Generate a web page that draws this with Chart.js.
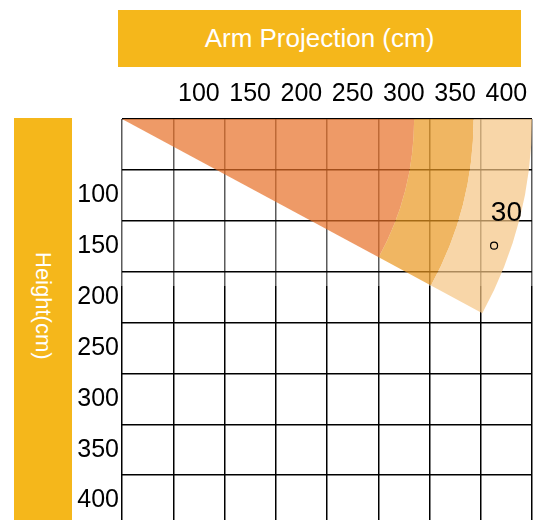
<!DOCTYPE html>
<html>
<head>
<meta charset="utf-8">
<script src="https://cdn.jsdelivr.net/npm/chart.js@4.4.1/dist/chart.umd.min.js"></script>
<style>
  body { margin: 0; background: #fff; }
  #wrap { position: relative; width: 535px; height: 520px; overflow: hidden; }
  #chart { position: absolute; left: 0; top: 0; }
  .bar { position: absolute; background: #f5b71b; color: #fff; font-family: "Liberation Sans", Arial, sans-serif; }
  #xTitle { left: 118px; top: 10px; width: 403px; height: 57px; line-height: 57px; text-align: center; font-size: 26px; }
  #yTitle { left: 14px; top: 118px; width: 58px; height: 410px; }
  #yTitle span { position: absolute; left: 0; top: 134px; width: 58px; line-height: 58px; writing-mode: vertical-rl; font-size: 22px; }
</style>
</head>
<body>
<div id="wrap">
  <canvas id="chart" width="535" height="540"></canvas>
  <div class="bar" id="xTitle">Arm Projection (cm)</div>
  <div class="bar" id="yTitle"><span>Height(cm)</span></div>
</div>
<script>
// reach chart: arm projection vs height

// column / row labels (first cell has none)
const columnLabels = ['', '100', '150', '200', '250', '300', '350', '400'];
const rowLabels = ['', '100', '150', '200', '250', '300', '350', '400'];

// band edges of the reach zones, in cm from the corner
const bandEdges = [0, 285, 343, 400];
// lower edge of the zones, degrees below horizontal
const wedgeAngle = 28.5;

// angle note
const angleText = '30';
const angleTextAt = [375, 93];
const degreeMark = [{ x: 363, y: 124.5 }];

const bandColors = ['rgba(231,111,39,0.7)', 'rgba(234,151,31,0.7)', 'rgba(245,196,131,0.7)'];
const fontFamily = '"Liberation Sans", Arial, sans-serif';

// draws the reach zones through the hidden linear scales
const wedgePlugin = {
  id: 'wedges',
  beforeDatasetsDraw(chart) {
    const { ctx, scales: { xv, yv } } = chart;
    const cx = xv.getPixelForValue(0), cy = yv.getPixelForValue(0);
    const a = wedgeAngle * Math.PI / 180;
    ctx.save();
    for (let i = 0; i < bandEdges.length - 1; i++) {
      const rIn = bandEdges[i], rOut = bandEdges[i + 1];
      ctx.beginPath();
      ctx.ellipse(cx, cy, xv.getPixelForValue(rOut) - cx, yv.getPixelForValue(rOut) - cy, 0, 0, a);
      if (rIn > 0) {
        ctx.ellipse(cx, cy, xv.getPixelForValue(rIn) - cx, yv.getPixelForValue(rIn) - cy, 0, a, 0, true);
      } else {
        ctx.lineTo(cx, cy);
      }
      ctx.closePath();
      ctx.fillStyle = bandColors[i];
      ctx.fill();
    }
    ctx.fillStyle = '#000';
    ctx.font = '28px ' + fontFamily;
    ctx.textAlign = 'center';
    ctx.textBaseline = 'middle';
    ctx.fillText(angleText, xv.getPixelForValue(angleTextAt[0]), yv.getPixelForValue(angleTextAt[1]));
    ctx.restore();
  }
};

// vertical lines are grey in the upper part of the grid
function columnLineColor(c) {
  const { ctx, chartArea } = c.chart;
  if (!chartArea) return '#000';
  const g = ctx.createLinearGradient(0, chartArea.top, 0, chartArea.bottom);
  g.addColorStop(0, '#5a5a5a');
  g.addColorStop(0.41, '#5a5a5a');
  g.addColorStop(0.41, '#000');
  g.addColorStop(1, '#000');
  return g;
}

const context = document.getElementById('chart').getContext('2d');
new Chart(context, {
  type: 'scatter',
  data: { datasets: [{ data: degreeMark, xAxisID: 'xv', yAxisID: 'yv', pointRadius: 3.5,
    pointBackgroundColor: 'rgba(0,0,0,0)', pointBorderColor: '#000', pointBorderWidth: 1.2 }] },
  options: {
    responsive: false, animation: false, devicePixelRatio: 1,
    layout: { autoPadding: false, padding: { left: 0, top: 0, right: 3, bottom: 14 } },
    plugins: { legend: { display: false }, tooltip: { enabled: false } },
    scales: {
      x: { type: 'category', position: 'top', labels: columnLabels, offset: true,
        grid: { offset: true, color: columnLineColor, lineWidth: 1.5, drawTicks: false },
        border: { display: false },
        ticks: { color: '#000', font: { size: 25, family: fontFamily }, padding: 10, autoSkip: false, maxRotation: 0 },
        afterFit(s) { s.height = 119; s.paddingLeft = 0; s.paddingRight = 0; } },
      y: { type: 'category', position: 'left', labels: rowLabels, offset: true,
        grid: { offset: true, color: '#000', lineWidth: 1.5, drawTicks: false },
        border: { display: false },
        ticks: { color: '#000', font: { size: 25, family: fontFamily }, padding: 3, autoSkip: false },
        afterFit(s) { s.width = 122; s.paddingTop = 0; s.paddingBottom = 0; } },
      xv: { type: 'linear', display: false, min: 0, max: 400 },
      yv: { type: 'linear', display: false, min: 0, max: 400, reverse: true }
    }
  },
  plugins: [wedgePlugin]
});
</script>
</body>
</html>
